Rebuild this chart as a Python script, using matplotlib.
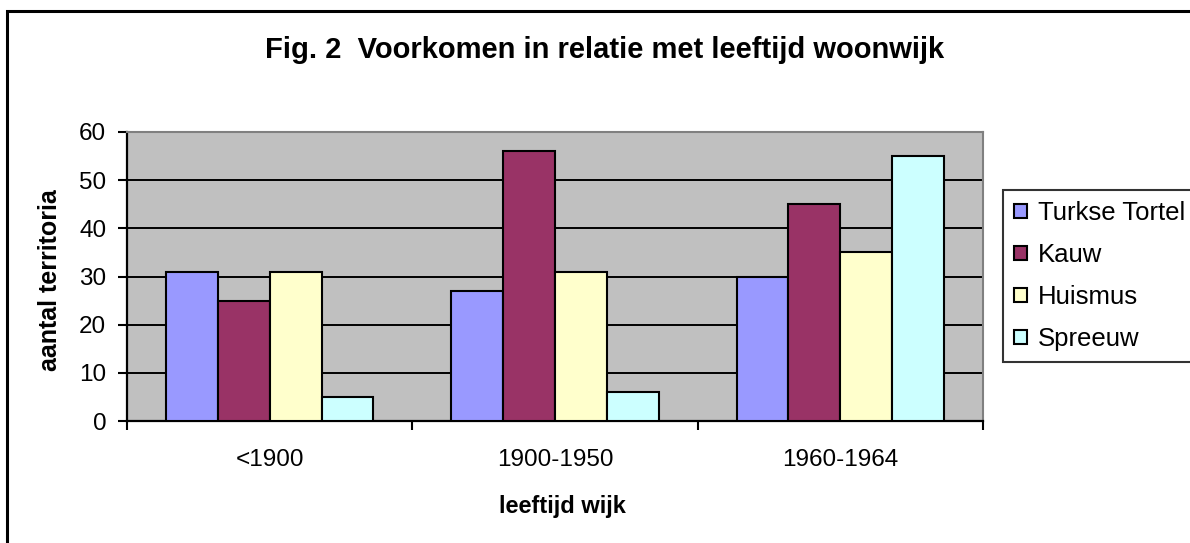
import matplotlib
matplotlib.use("Agg")
import matplotlib.pyplot as plt
import numpy as np
from matplotlib.patches import Rectangle

categories = ["<1900", "1900-1950", "1960-1964"]
series_names = ["Turkse Tortel", "Kauw", "Huismus", "Spreeuw"]
turkse_tortel = [31, 27, 30]
kauw = [25, 56, 45]
huismus = [31, 31, 35]
spreeuw = [5, 6, 55]
yticks = [0, 10, 20, 30, 40, 50, 60]
colors = ["#9999FF", "#993366", "#FFFFCC", "#CCFFFF"]

plt.rcParams['font.family'] = ['Liberation Sans', 'DejaVu Sans']

W, H = 1190, 543
fig = plt.figure(figsize=(W / 100, H / 100), dpi=100)

# outer chart border (extends past right/bottom edge)
fig.patches.append(Rectangle((7 / W, -0.1), 1.2, 1 - 11 / H + 0.1, transform=fig.transFigure,
                             fill=False, edgecolor="black", linewidth=2.2))

ax = fig.add_axes([127 / W, 1 - 421 / H, (983 - 127) / W, (421 - 132) / H])
ax.set_facecolor("#C0C0C0")

data = [turkse_tortel, kauw, huismus, spreeuw]
x = np.arange(len(categories))
bw = 1 / 5.5
for i, (name, vals, c) in enumerate(zip(series_names, data, colors)):
    ax.bar(x + (i - 1.5) * bw, vals, width=bw, color=c, edgecolor="black",
           linewidth=1.5, label=name, zorder=3)

ax.set_xlim(-0.5, 2.5)
ax.set_ylim(0, 60)
ax.set_yticks(yticks)
ax.yaxis.grid(True, color="black", linewidth=1.4, zorder=1)
ax.set_axisbelow(True)
ax.set_xticks([-0.5, 0.5, 1.5, 2.5])
ax.set_xticklabels([])
ax.set_xticks(x, minor=True)
ax.set_xticklabels(categories, minor=True, fontsize=17.5)
ax.tick_params(axis="x", which="minor", length=0, pad=20)
ax.tick_params(axis="x", which="major", length=6.5, width=1.5, direction="out")
ax.tick_params(axis="y", length=6.5, width=1.5, direction="out", labelsize=17.5, pad=8.5)

for s in ["top", "right"]:
    ax.spines[s].set_color("#808080")
    ax.spines[s].set_linewidth(1.5)
for s in ["left", "bottom"]:
    ax.spines[s].set_color("black")
    ax.spines[s].set_linewidth(1.6)

fig.text(605 / W, 1 - 58 / H, "Fig. 2  Voorkomen in relatie met leeftijd woonwijk",
         ha="center", va="baseline", fontsize=21, fontweight="bold")
fig.text(562 / W, 1 - 506 / H, "leeftijd wijk",
         ha="center", va="center", fontsize=17, fontweight="bold")
fig.text(50 / W, 1 - 280 / H, "aantal territoria", ha="center", va="center",
         rotation=90, fontsize=18, fontweight="bold")

leg = ax.legend(loc="upper left", bbox_to_anchor=(1003 / W, 1 - 190 / H),
                bbox_transform=fig.transFigure, frameon=True, fancybox=False,
                fontsize=18.5, handlelength=0.5, handleheight=0.5, handletextpad=0.43,
                labelspacing=0.7, borderpad=0.43, borderaxespad=0)
leg.get_frame().set_edgecolor("black")
leg.get_frame().set_linewidth(1.5)

fig.savefig("out.png", dpi=100)
